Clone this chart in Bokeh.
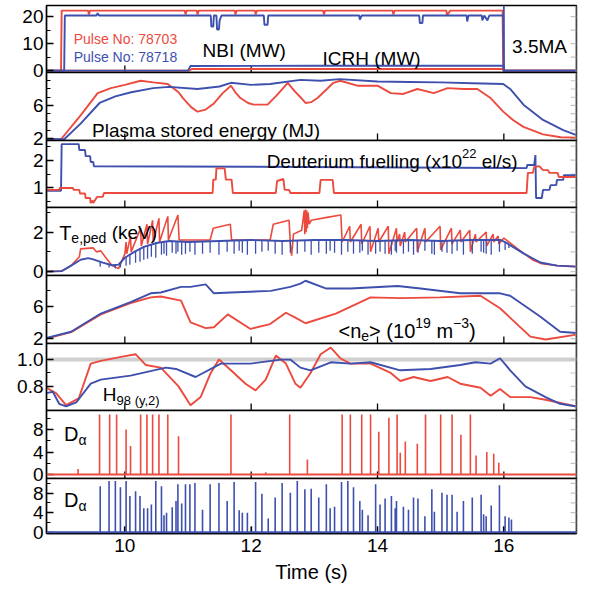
import numpy as np
from bokeh.plotting import figure
from bokeh.models import Range1d, FixedTicker, Label, Span, PrintfTickFormatter
from bokeh.layouts import column
from bokeh.embed import file_html
from bokeh.resources import INLINE

RED = "#ec4a3e"
BLUE = "#3e50ad"
FONT = "Liberation Sans"

T_START, T_END = 8.76, 17.15
x_ticks = [10, 12, 14, 16]

# ---------------- data (time in s) ----------------
# Panel 1: NBI and ICRH power (MW)
nbi_red_t = [8.76, 8.99, 9.00, 9.42, 9.43, 9.45, 10.95, 10.96, 10.98, 11.14, 11.15, 11.17, 11.74, 11.75, 11.77,
             12.06, 12.07, 12.09, 13.14, 13.15, 13.17, 14.24, 14.25, 14.27, 15.09, 15.10, 15.15, 15.98, 15.99, 17.15]
nbi_red_v = [0, 0, 22.2, 22.2, 20.8, 22.2, 22.2, 20.8, 22.2, 22.2, 20.8, 22.2, 22.2, 20.8, 22.2,
             22.2, 20.8, 22.2, 22.2, 20.8, 22.2, 22.2, 20.8, 22.2, 22.2, 20.5, 22.2, 22.2, 0, 0]
nbi_blue_t = [8.76, 9.04, 9.05, 9.55, 9.57, 9.59, 11.36, 11.37, 11.40, 11.41, 11.45, 11.46, 11.49, 11.50, 11.53,
              12.20, 12.21, 12.26, 12.27, 13.71, 13.72, 13.75, 14.66, 14.67, 14.71, 14.72, 15.41, 15.42, 15.44,
              15.65, 15.66, 15.69, 15.74, 15.77, 15.99, 16.00, 17.15]
nbi_blue_v = [0, 0, 20.4, 20.4, 21.3, 20.4, 20.4, 16.3, 16.3, 20.4, 20.4, 15.2, 15.2, 18.5, 20.4,
              20.4, 17.0, 17.0, 20.4, 20.4, 18.9, 20.4, 20.4, 17.6, 17.6, 20.4, 20.4, 18.2, 20.4,
              20.4, 18.6, 20.4, 18.6, 20.4, 20.4, 0, 0]
icrh_red_t = [8.76, 11.02, 11.06, 15.99, 16.00, 17.15]
icrh_red_v = [0, 0, 0.6, 0.6, 0, 0]
icrh_blue_t = [8.76, 11.00, 11.04, 13.00, 15.99, 16.00, 17.15]
icrh_blue_v = [0, 0, 1.7, 1.8, 1.8, 0, 0]
current_end_t = 16.0

# Panel 2: plasma stored energy (MJ)
w_red_t = [8.76, 8.99, 9.30, 9.57, 9.78, 10.00, 10.25, 10.45, 10.68, 10.85, 10.92, 11.05, 11.15, 11.28, 11.41,
           11.55, 11.68, 11.75, 11.83, 11.95, 12.04, 12.26, 12.40, 12.58, 12.68, 12.78, 12.86, 12.95, 13.05,
           13.20, 13.30, 13.41, 13.68, 14.00, 14.21, 14.41, 14.63, 14.89, 15.11, 15.36, 15.58, 15.79, 15.99,
           16.15, 16.31, 16.62, 16.90, 17.15]
w_red_v = [1.9, 1.9, 4.8, 7.5, 8.1, 8.5, 9.0, 8.8, 8.6, 7.6, 6.9, 5.8, 5.25, 5.5, 6.25,
           7.5, 8.4, 7.6, 6.9, 6.3, 6.1, 6.1, 7.2, 8.75, 7.8, 7.0, 6.3, 6.4, 6.9,
           8.0, 8.75, 9.0, 8.4, 8.4, 7.5, 7.4, 8.0, 7.5, 8.1, 8.0, 8.0, 6.9, 5.25,
           4.2, 3.4, 2.5, 2.15, 2.1]
w_blue_t = [8.76, 9.04, 9.30, 9.60, 9.85, 10.10, 10.45, 10.70, 11.15, 11.50, 11.68, 12.00, 12.30, 12.78, 13.10,
            13.40, 14.00, 14.50, 15.00, 15.50, 15.99, 16.10, 16.31, 16.62, 16.94, 17.15]
w_blue_v = [1.9, 1.9, 3.8, 6.3, 7.1, 7.6, 8.1, 8.25, 8.0, 8.3, 8.75, 8.5, 8.6, 9.1, 9.0,
            9.2, 8.9, 8.85, 8.8, 8.7, 8.6, 8.0, 6.1, 4.25, 3.0, 2.4]

# Panel 3: deuterium fuelling (1e22 el/s)
d_red_t = [8.76, 8.96, 8.97, 9.18, 9.19, 9.28, 9.29, 9.37, 9.38, 9.45, 9.46, 9.49, 9.50, 9.56, 9.65, 9.67,
           11.39, 11.40, 11.44, 11.45, 11.58, 11.60, 11.69, 11.71, 12.39, 12.41, 12.51, 12.53, 12.60, 12.62,
           13.08, 13.10, 13.29, 13.31, 16.36, 16.38, 16.46, 16.48, 16.56, 16.62, 16.70, 16.72, 16.85, 16.87, 17.15]
d_red_v = [0.93, 0.93, 1.00, 1.00, 0.93, 0.93, 0.80, 0.80, 0.64, 0.64, 0.46, 0.55, 0.46, 0.68, 0.68, 0.82,
           0.82, 1.30, 1.30, 1.70, 1.70, 1.30, 1.30, 0.82, 0.82, 1.25, 1.32, 0.93, 0.93, 0.82,
           0.82, 1.29, 1.29, 0.82, 0.82, 1.54, 1.54, 1.75, 1.78, 1.64, 1.64, 1.54, 1.54, 1.39, 1.39]
d_blue_t = [8.76, 8.99, 9.00, 9.27, 9.28, 9.37, 9.38, 9.45, 9.46, 9.50, 9.51, 12.00, 16.36, 16.37, 16.48,
            16.50, 16.51, 16.60, 16.62, 16.72, 16.74, 16.83, 16.84, 16.94, 16.95, 17.15]
d_blue_v = [0.90, 0.90, 2.57, 2.57, 2.36, 2.36, 2.14, 2.14, 1.93, 1.93, 1.78, 1.76, 1.71, 1.82, 1.82,
            2.18, 0.64, 0.64, 0.93, 0.93, 1.10, 1.10, 1.29, 1.29, 1.46, 1.46]

# Panel 4: pedestal electron temperature (keV)
te_red_t = [8.76, 9.00, 9.15, 9.28, 9.30, 9.50, 9.55, 9.62, 9.70, 9.80,
            9.90, 10.00, 10.02, 10.03, 10.09, 10.10, 10.25, 10.26, 10.35, 10.36,
            10.44, 10.45, 10.54, 10.55, 10.68, 10.69, 10.84, 10.86, 11.35, 11.40,
            11.67, 11.69, 12.30, 12.35, 12.60, 12.62, 12.64, 12.67, 12.80, 12.84,
            12.85, 12.86, 12.87, 12.88, 12.89, 12.90, 12.92, 12.95, 13.20, 13.42,
            13.44, 13.56, 13.57, 13.74, 13.75, 13.88, 13.89, 14.01, 14.02, 14.17,
            14.18, 14.30, 14.31, 14.35, 14.36, 14.43, 14.44, 14.62, 14.63, 14.75,
            14.76, 14.99, 15.00, 15.17, 15.18, 15.31, 15.32, 15.46, 15.47, 15.55,
            15.56, 15.72, 15.73, 15.83, 15.84, 15.91, 15.92, 16.00, 16.20, 16.45,
            16.60, 16.85, 17.15]
te_red_v = [0.0, 0.02, 0.3, 0.75, 1.15, 1.2, 1.0, 1.05, 0.7, 0.3,
            0.15, 0.9, 1.5, 0.9, 1.8, 1.0, 2.2, 1.3, 2.4, 1.4,
            2.6, 1.5, 2.7, 1.5, 2.8, 1.6, 2.87, 1.6, 1.6, 2.2,
            2.4, 1.6, 1.6, 2.4, 2.6, 1.4, 0.8, 1.9, 2.1, 3.1,
            1.9, 3.15, 2.0, 3.1, 2.2, 3.0, 2.4, 2.6, 2.75, 2.87,
            1.5, 2.3, 1.5, 2.4, 1.4, 2.3, 1.0, 2.2, 1.5, 2.3,
            0.9, 2.2, 1.5, 1.9, 1.3, 2.0, 1.5, 2.2, 1.0, 2.2,
            1.5, 2.3, 1.1, 2.2, 1.4, 2.1, 1.5, 2.1, 1.0, 1.9,
            1.5, 2.0, 1.3, 1.9, 1.5, 1.8, 1.4, 1.7, 1.2, 0.6,
            0.4, 0.3, 0.25]
te_blue_t = [8.76, 9.00, 9.15, 9.30, 9.42, 9.50, 9.65, 9.80, 9.90, 10.00,
             10.15, 10.30, 10.50, 10.70, 11.00, 11.50, 12.00, 12.50, 13.00, 13.50,
             14.00, 14.50, 15.00, 15.50, 15.95, 16.05, 16.31, 16.58, 16.84, 17.15]
te_blue_v = [0.0, 0.02, 0.3, 0.6, 0.68, 0.62, 0.45, 0.32, 0.35, 0.7,
             1.0, 1.25, 1.45, 1.55, 1.5, 1.55, 1.6, 1.55, 1.6, 1.6,
             1.55, 1.6, 1.55, 1.6, 1.6, 1.44, 0.92, 0.46, 0.3, 0.25]

# ELM times of pulse 78718 (blue D-alpha) and the matching Te,ped minima
elm_blue_t = [9.61, 9.75, 9.85, 9.93, 10.02, 10.08, 10.17, 10.24, 10.30, 10.36,
              10.42, 10.49, 10.58, 10.62, 10.66, 10.75, 10.81, 10.84, 10.90, 10.96,
              11.03, 11.11, 11.23, 11.35, 11.49, 11.62, 11.73, 11.81, 11.86, 11.94,
              12.07, 12.17, 12.27, 12.38, 12.49, 12.62, 12.73, 12.85, 12.95, 13.07,
              13.19, 13.25, 13.32, 13.43, 13.53, 13.62, 13.72, 13.76, 13.85, 13.97,
              14.04, 14.12, 14.22, 14.28, 14.30, 14.41, 14.49, 14.57, 14.64, 14.75,
              14.86, 14.90, 15.02, 15.10, 15.18, 15.26, 15.36, 15.50, 15.64, 15.68,
              15.72, 15.80, 15.93, 16.02, 16.08, 16.12]
te_blue_dip = [0.25, 0.2, 0.15, 0.2, 0.3, 0.35, 0.45, 0.5, 0.6, 0.65,
               0.75, 0.7, 0.85, 0.9, 0.8, 0.95, 0.9, 1.0, 0.85, 0.9,
               1.0, 0.85, 0.9, 0.95, 0.85, 1.0, 0.9, 1.05, 0.95, 0.85,
               0.9, 1.0, 1.05, 0.9, 0.85, 0.95, 0.9, 1.0, 0.85, 0.95,
               0.9, 1.05, 0.95, 0.85, 1.0, 0.9, 0.95, 1.05, 0.85, 0.9,
               1.0, 0.9, 0.85, 1.05, 0.95, 0.9, 1.0, 0.85, 0.95, 1.05,
               0.9, 0.85, 1.0, 0.95, 0.9, 1.05, 0.85, 0.9, 1.0, 0.95,
               0.9, 0.85, 1.0, 1.1, 1.2, 1.25]
da_blue_v = [9.4, 10.5, 10.5, 9.2, 10.5, 7.4, 8.4, 7.4, 4.9, 4.9,
             5.7, 10.5, 9.4, 3.5, 4.0, 5.1, 6.4, 9.8, 5.9, 9.8,
             9.8, 10.1, 4.6, 9.8, 10.1, 6.4, 10.3, 4.5, 4.0, 4.0,
             10.3, 7.9, 2.8, 7.1, 10.1, 8.1, 10.5, 8.8, 8.9, 7.1,
             9.8, 4.9, 5.2, 10.3, 10.5, 9.2, 6.4, 4.6, 3.5, 9.8,
             5.7, 6.9, 7.4, 4.9, 6.4, 5.2, 4.6, 7.1, 6.9, 3.3,
             8.8, 4.2, 8.1, 7.7, 7.7, 4.2, 6.4, 7.1, 7.7, 3.7,
             3.3, 5.5, 9.6, 3.3, 3.0, 2.6]

# Panel 5: line averaged density (1e19 m^-3)
ne_red_t = [8.76, 9.15, 9.62, 10.09, 10.41, 10.57, 10.89, 11.04, 11.28, 11.41,
            11.63, 11.99, 12.30, 12.55, 12.70, 12.86, 13.34, 13.89, 14.36, 14.99,
            15.63, 15.94, 16.42, 16.66, 17.15]
ne_red_v = [2.0, 2.8, 5.0, 6.4, 7.1, 7.2, 6.7, 4.0, 3.3, 3.4,
            5.0, 3.2, 3.8, 5.2, 4.6, 3.9, 5.1, 7.1, 7.0, 7.1,
            7.3, 5.75, 2.25, 1.9, 2.5]
ne_blue_t = [8.76, 9.15, 9.62, 10.09, 10.41, 10.57, 10.89, 11.04, 11.28, 11.41,
             11.68, 12.31, 12.62, 12.78, 12.86, 13.18, 13.57, 14.32, 14.68, 15.31,
             15.94, 16.10, 16.58, 16.89, 17.15]
ne_blue_v = [2.1, 2.85, 5.1, 6.5, 7.6, 7.7, 8.4, 8.4, 8.7, 7.6,
             7.7, 7.9, 8.4, 8.8, 9.15, 8.2, 8.2, 8.5, 8.2, 7.6,
             7.6, 7.3, 4.7, 2.85, 2.7]

# Panel 6: H98(y,2)
h_red_t = [8.76, 8.91, 9.07, 9.27, 9.46, 9.62, 9.94, 10.17, 10.33, 10.57,
           10.85, 11.04, 11.20, 11.36, 11.49, 11.68, 11.91, 12.07, 12.23, 12.39,
           12.55, 12.70, 12.78, 12.94, 13.10, 13.26, 13.41, 13.57, 13.89, 14.21,
           14.36, 14.57, 14.84, 15.11, 15.31, 15.63, 15.79, 15.94, 16.10, 16.42,
           16.66, 17.15]
h_red_v = [0.79, 0.75, 0.66, 0.71, 0.97, 0.99, 1.02, 1.04, 0.96, 0.94,
           0.80, 0.66, 0.72, 0.90, 1.00, 0.92, 0.82, 0.77, 0.85, 1.03,
           0.97, 0.82, 0.79, 0.90, 1.04, 1.09, 1.01, 0.97, 0.97, 0.90,
           0.84, 0.87, 0.84, 0.87, 0.82, 0.79, 0.73, 0.78, 0.72, 0.72,
           0.70, 0.65]
h_blue_t = [8.76, 8.86, 8.96, 9.07, 9.23, 9.46, 9.62, 10.09, 10.65, 10.81,
            11.12, 11.52, 11.99, 12.47, 12.62, 12.78, 12.94, 13.26, 13.57, 13.89,
            14.36, 14.84, 15.31, 15.55, 15.79, 15.94, 16.10, 16.34, 16.66, 16.89,
            17.15]
h_blue_v = [0.75, 0.76, 0.67, 0.65, 0.68, 0.82, 0.85, 0.88, 0.94, 0.93,
            0.87, 0.97, 0.97, 1.0, 1.0, 0.94, 0.92, 0.98, 0.97, 0.98,
            0.92, 0.93, 0.96, 0.98, 0.97, 1.01, 0.92, 0.8, 0.72, 0.67,
            0.65]
h98_ref = 1.0

# Panel 7: D-alpha of pulse 78703 (a.u.)
da_red_t = [9.26, 9.60, 9.76, 9.87, 10.02, 10.09, 10.25, 10.35, 10.44, 10.54,
            10.68, 10.85, 11.68, 12.23, 12.61, 12.89, 13.44, 13.57, 13.75, 13.89,
            14.02, 14.18, 14.31, 14.36, 14.44, 14.63, 14.76, 15.00, 15.18, 15.32,
            15.47, 15.56, 15.73, 15.84, 15.92]
da_red_v = [1.0, 10.7, 10.7, 10.7, 8.0, 5.1, 10.7, 10.7, 10.7, 10.7,
            10.7, 6.8, 10.7, 0.4, 10.7, 2.7, 10.7, 10.7, 10.7, 10.7,
            7.6, 10.1, 10.7, 3.9, 5.9, 5.5, 10.7, 10.7, 10.7, 7.1,
            10.7, 3.4, 4.0, 3.7, 2.1]

# ---------------- layout helpers ----------------
FRAME_W = 530
PAD = 12
x_range = Range1d(T_START, T_END)
S_PER_PX = (T_END - T_START) / FRAME_W

W = {' ': .278, '(': .333, ')': .333, ',': .278, '<': .584, '>': .584, '.': .278, '/': .278, ':': .278,
     '−': .584, '-': .333, 'T': .611, 'H': .722, 'D': .722, 'M': .833, 'J': .5, 'N': .722, 'B': .667,
     'I': .278, 'W': .944, 'C': .722, 'R': .722, 'A': .667, 'P': .667, 'V': .667, 'e': .556, 'p': .556,
     'd': .556, 'k': .5, 'n': .556, 'm': .833, 'y': .5, 'x': .5, 'l': .222, 's': .5, 'i': .222, 'u': .556,
     't': .278, 'r': .333, 'f': .278, 'g': .556, 'o': .556, 'a': .556, 'α': .578}


def twidth(s, size):
    return sum(W.get(c, 0.556) for c in s) * size


def add_runs(p, t0, y0, runs, color="black"):
    off = 0.0
    for txt, size, dy in runs:
        stripped = txt.lstrip(" ")
        off += (len(txt) - len(stripped)) * W[" "] * size
        p.add_layout(Label(x=t0, y=y0, x_offset=off, y_offset=dy, text=stripped, text_font=FONT,
                           text_font_size=f"{size}px", text_color=color,
                           text_baseline="alphabetic", text_align="left"))
        off += twidth(stripped, size)


def make_fig(h, ylo, yhi, major, minor, first=False, bottom=False, fmt=None):
    p = figure(frame_width=FRAME_W, frame_height=h, x_range=x_range, y_range=Range1d(ylo, yhi),
               output_backend="svg", toolbar_location=None,
               x_axis_location="below" if bottom else None,
               min_border_left=46, min_border_right=17,
               min_border_top=5 if first else PAD, min_border_bottom=0 if bottom else PAD,
               margin=(0, 0, 0, 0) if first else (-2 * PAD, 0, 0, 0),
               background_fill_color="white", border_fill_alpha=0)
    p.grid.visible = False
    p.outline_line_color = "black"
    p.outline_line_width = 1.4

    ya = p.yaxis[0]
    ya.ticker = FixedTicker(ticks=major, minor_ticks=minor)
    ya.major_tick_in = 7
    ya.major_tick_out = 0
    ya.minor_tick_in = 4
    ya.minor_tick_out = 0
    ya.major_tick_line_width = 1.3
    ya.minor_tick_line_width = 1.1
    ya.axis_line_width = 1.4
    ya.major_label_text_font = FONT
    ya.major_label_text_font_size = "19px"
    ya.major_label_text_color = "black"
    ya.major_label_standoff = 3
    if fmt is not None:
        ya.formatter = PrintfTickFormatter(format=fmt)

    # inward time ticks at the bottom of every panel
    upp = (yhi - ylo) / h
    n = len(x_ticks)
    p.segment(x0=x_ticks, y0=[ylo] * n, x1=x_ticks, y1=[ylo + 7 * upp] * n,
              line_color="black", line_width=1.3)
    # faint ticks and grey edge on the right side
    rt = major + minor
    m = len(rt)
    p.segment(x0=[T_END - 6 * S_PER_PX] * m, y0=rt, x1=[T_END] * m, y1=rt,
              line_color="#c4c4c4", line_width=1.2)
    p.add_layout(Span(location=T_END, dimension="height", line_color="#8c8c8c", line_width=2))

    if bottom:
        xa = p.xaxis[0]
        xa.ticker = FixedTicker(ticks=x_ticks, minor_ticks=[])
        xa.major_tick_in = 7
        xa.major_tick_out = 0
        xa.minor_tick_in = 0
        xa.minor_tick_out = 0
        xa.major_tick_line_width = 1.3
        xa.axis_line_width = 1.4
        xa.major_label_text_font = FONT
        xa.major_label_text_font_size = "19px"
        xa.major_label_text_color = "black"
        xa.major_label_standoff = 5
        xa.axis_label = "Time (s)"
        xa.axis_label_text_font = FONT
        xa.axis_label_text_font_size = "20px"
        xa.axis_label_text_font_style = "normal"
        xa.axis_label_text_color = "black"
        xa.axis_label_standoff = 6
    return p


LW = 1.9

# Panel 1
p1 = make_fig(67, -0.7, 24.1, [0, 10, 20], [5, 15], first=True)
p1.line(nbi_red_t, nbi_red_v, line_color=RED, line_width=LW)
p1.line(icrh_red_t, icrh_red_v, line_color=RED, line_width=LW)
p1.line(nbi_blue_t, nbi_blue_v, line_color=BLUE, line_width=LW)
p1.line(icrh_blue_t, icrh_blue_v, line_color=BLUE, line_width=LW)
p1.add_layout(Span(location=current_end_t, dimension="height", line_color=BLUE, line_width=1.8))
add_runs(p1, 9.19, 11.7, [("Pulse No: 78703", 14, 0)], color=RED)
add_runs(p1, 9.19, 5.1, [("Pulse No: 78718", 14, 0)], color=BLUE)
add_runs(p1, 11.23, 7.6, [("NBI (MW)", 19, 0)])
add_runs(p1, 13.13, 4.3, [("ICRH (MW)", 19, 0)])
add_runs(p1, 16.13, 9.1, [("3.5MA", 19, 0)])

# Panel 2
p2 = make_fig(68, 1.75, 10.0, [2, 6], [3, 4, 5, 7, 8, 9])
p2.line(w_red_t, w_red_v, line_color=RED, line_width=LW)
p2.line(w_blue_t, w_blue_v, line_color=BLUE, line_width=LW)
add_runs(p2, 9.48, 2.94, [("Plasma stored energy (MJ)", 19, 0)])

# Panel 3
p3 = make_fig(67, 0.3, 2.7, [1, 2], [0.5, 1.5, 2.5])
p3.line(d_blue_t, d_blue_v, line_color=BLUE, line_width=LW)
p3.line(d_red_t, d_red_v, line_color=RED, line_width=LW)
add_runs(p3, 12.245, 1.95, [("Deuterium fuelling (x10", 19, 0), ("22", 13, 8), (" el/s)", 19, 0)])

# Panel 4
p4 = make_fig(68, -0.2, 3.25, [0, 2], [1, 3])
p4.line(te_red_t, te_red_v, line_color=RED, line_width=1.6)
p4.line(te_blue_t, te_blue_v, line_color=BLUE, line_width=LW)
te_blue_top = np.interp(elm_blue_t, te_blue_t, te_blue_v)
p4.segment(x0=elm_blue_t, y0=te_blue_dip, x1=elm_blue_t, y1=te_blue_top, line_color=BLUE, line_width=1.3)
add_runs(p4, 8.96, 1.97, [("T", 20, 0), ("e,ped", 14, -5), (" (keV)", 19, 0)])

# Panel 5
p5 = make_fig(68, 1.4, 9.8, [2, 6], [4, 8])
p5.line(ne_red_t, ne_red_v, line_color=RED, line_width=LW)
p5.line(ne_blue_t, ne_blue_v, line_color=BLUE, line_width=LW)
add_runs(p5, 13.383, 2.91, [("<n", 20, 0), ("e", 14, -5), (">", 20, 0), (" (10", 20, 0), ("19", 14, 8),
                            (" m", 20, 0), ("−3", 14, 8), (")", 20, 0)])

# Panel 6
p6 = make_fig(67, 0.62, 1.12, [0.8, 1.0], [0.7, 0.9], fmt="%.1f")
p6.add_layout(Span(location=h98_ref, dimension="width", line_color="#cfcfcf", line_width=4, level="underlay"))
p6.line(h_red_t, h_red_v, line_color=RED, line_width=LW)
p6.line(h_blue_t, h_blue_v, line_color=BLUE, line_width=LW)
add_runs(p6, 9.652, 0.737, [("H", 19, 0), ("98 (y,2)", 13, -6)])

# Panel 7
p7 = make_fig(68, -0.7, 11.4, [0, 4, 8], [2, 6, 10])
p7.add_layout(Span(location=0, dimension="width", line_color=RED, line_width=LW))
p7.segment(x0=da_red_t, y0=0, x1=da_red_t, y1=da_red_v, line_color=RED, line_width=1.6)
add_runs(p7, 9.036, 7.2, [("D", 20, 0), ("α", 14, -6)])

# Panel 8
p8 = make_fig(55, -0.25, 11.0, [0, 4, 8], [2, 6, 10], bottom=True)
p8.add_layout(Span(location=0, dimension="width", line_color=BLUE, line_width=LW))
p8.segment(x0=elm_blue_t, y0=0, x1=elm_blue_t, y1=da_blue_v, line_color=BLUE, line_width=1.6)
add_runs(p8, 9.036, 6.67, [("D", 20, 0), ("α", 14, -6)])
p8.add_layout(Label(x=T_END, y=4.9, x_offset=9, text="JG10.443-2c", angle=np.pi / 2,
                    text_font=FONT, text_font_size="10px", text_color="#333333",
                    text_align="center", text_baseline="middle"))

layout = column(p1, p2, p3, p4, p5, p6, p7, p8, spacing=0)
open("out.html", "w").write(file_html(layout, INLINE))
